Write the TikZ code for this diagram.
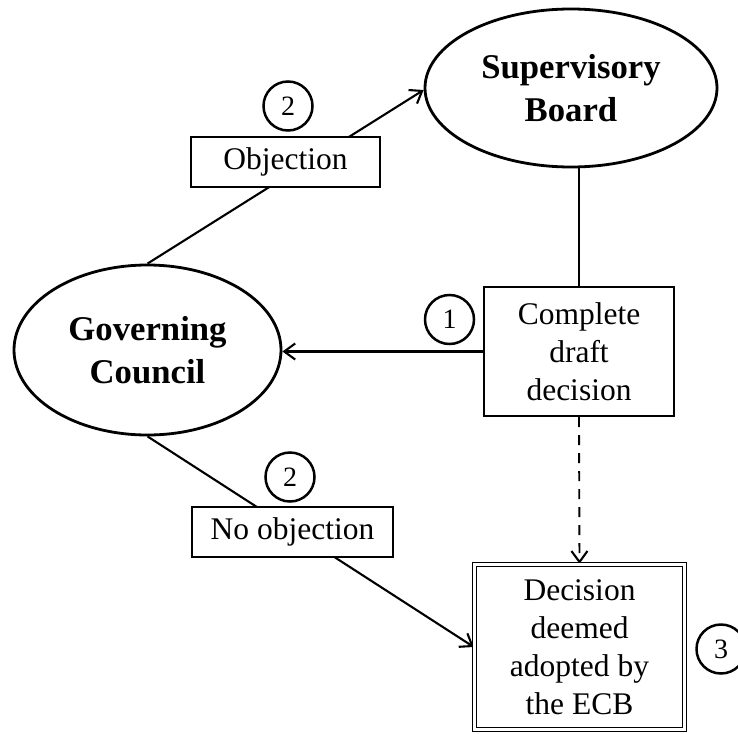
\documentclass[tikz,border=0pt]{standalone}
\usepackage{fontspec}
\setmainfont{Liberation Serif}
\usetikzlibrary{shapes.geometric,arrows.meta,backgrounds}
\begin{document}
\begin{tikzpicture}[x=1pt,y=-1pt,
  bigell/.style={draw, ellipse, line width=2.8pt, fill=white, inner sep=0pt,
    align=center, font=\fontsize{34.7}{43}\selectfont\bfseries},
  txtbox/.style={draw, rectangle, line width=2.1pt, fill=white, inner sep=0pt,
    align=center, font=\fontsize{31.5}{38}\selectfont},
  numc/.style={draw, circle, line width=2.5pt, fill=white, inner sep=0pt,
    minimum size=49pt, font=\fontsize{28}{32}\selectfont},
  conn/.style={line width=2.1pt},
  tipstyle/.style={-{Straight Barb[length=11pt,width=16pt,line width=2.1pt]}},
  dashconn/.style={line width=1.9pt, dash pattern=on 10pt off 8pt}
]
\useasboundingbox (0,0) rectangle (738,733);

\node[bigell, minimum width=292pt, minimum height=158pt] (SB) at (571,88) {Supervisory\\Board};
\node[bigell, minimum width=267pt, minimum height=170pt] (GC) at (147.5,350) {Governing\\Council};
\node[txtbox, minimum width=190pt, minimum height=129pt] (CD) at (579,351.5) {Complete\\draft\\decision};
\node[txtbox, double, double distance=2.4pt, line width=1.4pt,
  minimum width=210pt, minimum height=165pt] (DD) at (579.5,647) {Decision\\deemed\\adopted by\\the ECB};
\node[txtbox, minimum width=189pt, minimum height=50pt] (OB) at (285.5,162) {Objection};
\node[txtbox, minimum width=201pt, minimum height=50pt] (NO) at (292.5,532) {No objection};

\node[numc] (c2a) at (288,106) {2};
\node[numc] (c1) at (449.5,319.5) {1};
\node[numc] (c2b) at (290,477) {2};
\node[numc] (c3) at (721,649) {3};

\begin{pgfonlayer}{background}
\draw[conn] (CD.north) -- (CD.north |- SB.south);
\draw[conn, tipstyle] (CD.west) -- (CD.west -| GC.east);
\draw[conn, tipstyle] (GC.north) -- ([yshift=-2pt]SB.west);
\draw[conn, tipstyle] (GC.south) -- (DD.west);
\draw[dashconn, tipstyle] (CD.south) -- (DD.north);
\end{pgfonlayer}
\end{tikzpicture}
\end{document}
